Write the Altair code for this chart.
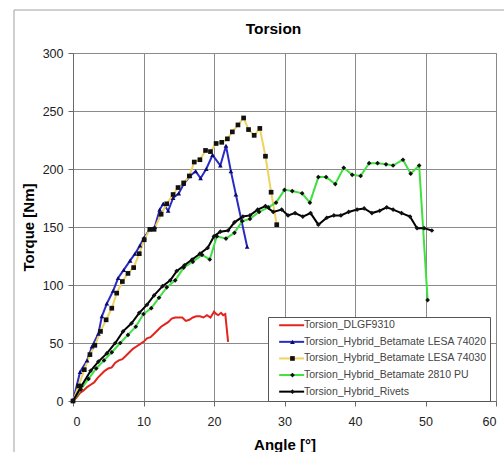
import altair as alt
import pandas as pd

series_names = [
    "Torsion_DLGF9310",
    "Torsion_Hybrid_Betamate LESA 74020",
    "Torsion_Hybrid_Betamate LESA 74030",
    "Torsion_Hybrid_Betamate 2810 PU",
    "Torsion_Hybrid_Rivets",
]
line_colors = ["#e3241d", "#2a2ac4", "#f0d25c", "#3fe03f", "#000000"]
marker_colors = ["transparent", "#0b0b6e", "#111111", "#111111", "#111111"]
marker_shapes = ["circle", "triangle-up", "square", "diamond", "diamond"]

red_x = [0, 0.5, 1, 1.5, 2, 2.5, 3, 3.5, 4, 4.5, 5, 5.5, 6, 6.5, 7, 7.5, 8, 8.5, 9, 9.5,
         10, 10.5, 11, 11.5, 12, 12.5, 13, 13.5, 14, 14.5, 15, 15.5, 16, 16.5, 17, 17.5,
         18, 18.5, 19, 19.5, 20, 20.3, 20.6, 21, 21.3, 21.6, 22]
red_y = [0, 3, 7, 9, 12, 14, 16, 20, 23, 26, 28, 29, 33, 35, 36, 39, 42, 45, 47, 49,
         51, 54, 55, 58, 61, 64, 66, 68, 71, 72, 72, 72, 69, 70, 72, 73,
         73, 72, 74, 72, 77, 75, 74, 76, 74, 75, 51]

blue_x = [0, 1.0, 2.0, 2.7, 3.6, 4.1, 4.8, 5.7, 6.4, 7.2, 8.1, 8.8, 9.5, 10.1, 10.9, 11.6,
          12.3, 12.8, 13.5, 14.2, 15.0, 15.7, 16.6, 17.4, 18.1, 18.9, 19.8, 20.9, 21.7,
          22.4, 23.1, 24.7]
blue_y = [0, 25, 35, 47, 58, 73, 84, 95, 106, 113, 121, 127, 134, 141, 148, 150,
          165, 170, 164, 175, 179, 187, 194, 198, 192, 200, 212, 203, 220,
          198, 178, 133]

yellow_x = [0, 0.8, 1.6, 2.4, 3.1, 3.9, 4.7, 5.5, 6.2, 7.0, 7.8, 8.6, 9.4, 10.1, 10.9,
            11.5, 12.5, 13.3, 14.2, 14.9, 15.7, 16.5, 17.2, 18.0, 18.8, 19.5, 20.3, 21.1,
            21.9, 22.6, 23.4, 24.2, 24.9, 25.7, 26.5, 27.3, 28.1, 28.9]
yellow_y = [0, 13, 27, 40, 48, 60, 70, 80, 93, 103, 110, 115, 127, 139, 148,
            148, 161, 170, 178, 184, 188, 194, 206, 208, 216, 215, 222, 223,
            226, 232, 238, 244, 234, 229, 235, 211, 180, 152]

green_x = [0, 1.1, 2.2, 3.3, 4.4, 5.5, 6.7, 7.8, 8.9, 10.0, 11.1, 12.2, 13.3, 14.5, 15.7,
           17.0, 18.3, 19.4, 20.4, 21.7, 22.9, 24.0, 25.1, 26.4, 27.7, 28.8, 30.0, 31.1,
           32.5, 33.6, 34.8, 35.9, 37.2, 38.4, 39.6, 40.8, 42.0, 43.2, 44.4, 45.4, 46.8,
           47.9, 49.1, 50.3]
green_y = [0, 10, 19, 28, 35, 42, 50, 57, 64, 75, 80, 89, 98, 104, 115,
           120, 126, 122, 142, 140, 145, 155, 157, 163, 167, 171, 182, 181,
           179, 171, 193, 193, 187, 201, 195, 194, 205, 205, 204, 203, 208,
           196, 203, 87]

black_x = [0, 1.2, 2.5, 3.6, 4.8, 6.0, 7.1, 8.3, 9.4, 10.5, 11.5, 12.7, 13.8, 14.7, 15.8,
           16.9, 18.0, 19.1, 20.0, 20.9, 22.0, 22.9, 24.1, 25.1, 26.2, 27.3, 28.4, 29.6,
           30.5, 31.5, 32.6, 33.7, 34.8, 36.0, 37.0, 38.0, 39.1, 40.3, 41.3, 42.4, 43.5,
           44.5, 45.4, 46.6, 47.8, 48.8, 49.8, 50.9]
black_y = [0, 13, 26, 34, 41, 50, 60, 67, 76, 83, 91, 99, 104, 112, 117,
           122, 127, 132, 142, 146, 147, 154, 159, 160, 165, 168, 163, 165,
           160, 162, 159, 162, 152, 158, 160, 160, 163, 165, 166, 162, 164,
           167, 165, 162, 159, 149, 149, 147]

all_x = [red_x, blue_x, yellow_x, green_x, black_x]
all_y = [red_y, blue_y, yellow_y, green_y, black_y]
marker_keys = ["m_" + s for s in series_names]

rows = []
for name, mkey, xs, ys in zip(series_names, marker_keys, all_x, all_y):
    for i, (a, t) in enumerate(zip(xs, ys)):
        rows.append({"series": name, "mseries": mkey, "angle": a, "torque": t, "idx": i})
df = pd.DataFrame(rows)
df_pts = df[df["series"] != series_names[0]]

x_enc = alt.X("angle:Q", scale=alt.Scale(domain=[0, 60], nice=False),
              axis=alt.Axis(values=[0, 10, 20, 30, 40, 50, 60], title="Angle [°]",
                            titlePadding=10, labelPadding=9))
y_enc = alt.Y("torque:Q", scale=alt.Scale(domain=[0, 300], nice=False),
              axis=alt.Axis(values=[0, 50, 100, 150, 200, 250, 300], title="Torque [Nm]",
                            titlePadding=6, labelPadding=5))

frame = alt.Chart(pd.DataFrame({"a": [0]})).mark_rect(
    fill="transparent", stroke="#a0a0a0", strokeWidth=1
).encode(x=alt.value(-59), x2=alt.value(440), y=alt.value(-43), y2=alt.value(410))

lines = alt.Chart(df).mark_line(strokeWidth=2).encode(
    x=x_enc, y=y_enc, order="idx:Q",
    color=alt.Color("series:N",
                    scale=alt.Scale(domain=series_names, range=line_colors),
                    legend=alt.Legend(
                        orient="none", legendX=195, legendY=264, title=None,
                        symbolType="M-4,0H4", symbolSize=39, symbolStrokeWidth=2,
                        symbolOffset=15.4, labelOffset=7,
                        labelFontSize=10.5, labelColor="#444444", labelFont="Liberation Sans",
                        padding=3, rowPadding=5.6, fillColor="white",
                        strokeColor="#555555", labelLimit=300)),
)

marker_legend = alt.Legend(
    orient="none", legendX=195, legendY=264, title=None,
    symbolSize=22, symbolOffset=16.2, symbolStrokeWidth=0,
    labelOffset=7, labelFontSize=10.5, labelExpr="' '",
    labelFont="Liberation Sans", padding=3, rowPadding=5.6, labelLimit=300)

points = alt.Chart(df_pts).mark_point(filled=True, size=22, opacity=1).encode(
    x=x_enc, y=y_enc,
    fill=alt.Fill("mseries:N",
                  scale=alt.Scale(domain=marker_keys, range=marker_colors),
                  legend=marker_legend),
    shape=alt.Shape("mseries:N",
                    scale=alt.Scale(domain=marker_keys, range=marker_shapes),
                    legend=marker_legend),
)

chart = alt.layer(frame, lines, points).properties(
    width=423, height=348,
    title=alt.Title("Torsion", fontSize=15.5, font="Liberation Sans", fontWeight="bold",
                    offset=14, dx=-11, dy=42, color="#000000", frame="group"),
    autosize=alt.AutoSizeParams(type="none"),
    padding={"left": 73, "top": 53, "right": 8, "bottom": 51},
    background="white",
).configure_axis(
    gridColor="#8a8a8a", gridWidth=1, domainColor="#6a6a6a", tickColor="#6a6a6a",
    tickSize=5, labelFont="Liberation Sans", labelFontSize=12.5, labelColor="#222222",
    titleFont="Liberation Sans", titleFontSize=15, titleFontWeight="bold",
    titleColor="#000000",
).configure_view(
    stroke="#8a8a8a", strokeWidth=1
)

chart.save("out.html", embed_options={"renderer": "svg", "actions": False})
